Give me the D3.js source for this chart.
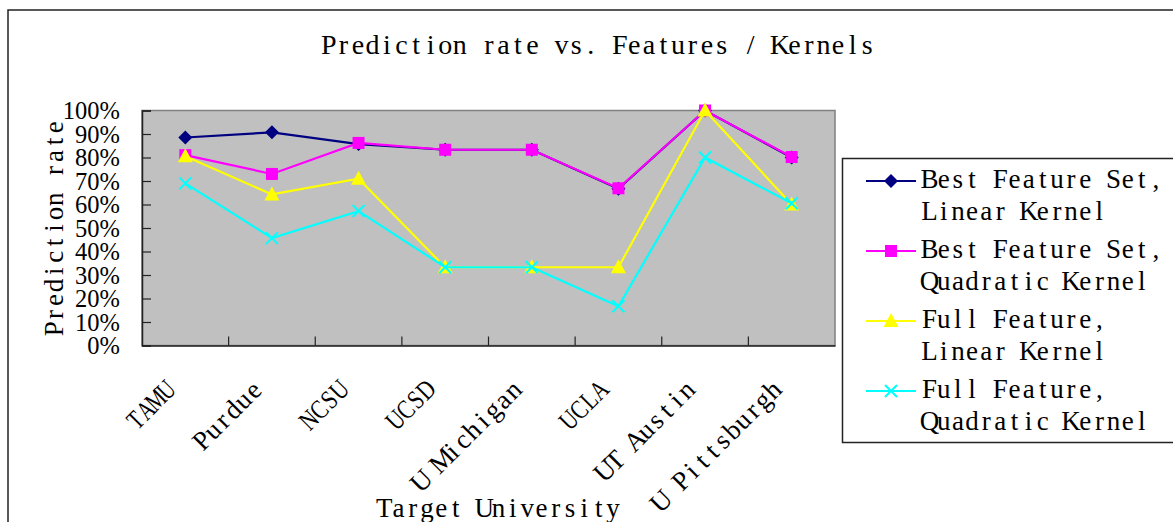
<!DOCTYPE html>
<html><head><meta charset="utf-8">
<script src="https://cdn.jsdelivr.net/npm/d3@7"></script>
<style>
html,body{margin:0;padding:0;background:#fff;overflow:hidden}
svg{display:block}
</style></head>
<body>
<svg id="chart" width="1173" height="522"></svg>
<script>
const categories = ["TAMU","Purdue","NCSU","UCSD","U Michigan","UCLA","UT Austin","U Pittsburgh"];
const bestLinear  = [88.5, 90.7, 85.7, 83.3, 83.3, 66.7, 100, 80];
const bestQuad    = [81, 73, 86.2, 83.3, 83.3, 66.9, 100, 80.2];
const fullLinear  = [80.5, 64.3, 71, 33.3, 33.3, 33.3, 100, 60];
const fullQuad    = [69, 45.7, 57.2, 33.3, 33.3, 16.7, 80, 60.5];
const yTicks = [0,10,20,30,40,50,60,70,80,90,100];
const seriesNames = [["Best Feature Set,","Linear Kernel"],["Best Feature Set,","Quadratic Kernel"],["Full Feature,","Linear Kernel"],["Full Feature,","Quadratic Kernel"]];
const seriesColors = ["#000080","#ff00ff","#ffff00","#00ffff"];
const seriesMarkers = ["diamond","square","triangle","x"];
const title = "Prediction rate vs. Features / Kernels";
const xTitle = "Target University";
const yTitle = "Prediction rate";

const series = [bestLinear,bestQuad,fullLinear,fullQuad];
const svg = d3.select("#chart");
const serif = "'Liberation Serif', 'Times New Roman', serif";

// serif text laid out on a fixed character grid (like the original's SimSun)
function monoText(parent, str, x0, y, cw, size){
  const tmp = svg.append("text").attr("font-family",serif).attr("font-size",size).text(str);
  const natural = tmp.node().getComputedTextLength();
  tmp.remove();
  const s = Math.min(1, str.length*cw/natural);
  const xs = Array.from(str).map((c,i)=> ((x0 + (i+0.5)*cw)/s).toFixed(2)).join(" ");
  return parent.append("text").attr("x",xs).attr("y",y).attr("text-anchor","middle")
    .attr("transform", s<1 ? `scale(${s.toFixed(3)},1)` : null)
    .attr("font-family",serif).attr("font-size",size).attr("fill","#000").text(str);
}

// outer border
svg.append("rect").attr("x",8).attr("y",10).attr("width",1200).attr("height",560)
  .attr("fill","#fff").attr("stroke","#222").attr("stroke-width",1.5);

const L=142, R=835, T=110.5, B=345.5;
const x = d3.scaleBand().domain(categories).range([L,R]).padding(0);
const y = d3.scaleLinear().domain([0,100]).range([B,T]);

// plot area
svg.append("rect").attr("x",L).attr("y",T).attr("width",R-L).attr("height",B-T)
  .attr("fill","#c0c0c0").attr("stroke","#808080").attr("stroke-width",1.5);

// y axis
const yAxis = d3.axisLeft(y).tickValues(yTicks).tickSize(-9).tickPadding(22).tickFormat(d=>d+"%");
const gy = svg.append("g").attr("transform",`translate(${L},0)`).call(yAxis);
gy.select(".domain").attr("stroke","#222").attr("stroke-width",1.5);
gy.selectAll(".tick line").attr("stroke","#222").attr("stroke-width",1.2);
gy.selectAll(".tick text").attr("font-family",serif).attr("font-size",24.5).attr("fill","#000")
  .attr("dy","0.34em");

// x axis
const xAxis = d3.axisBottom(x).tickSize(0).tickFormat("");
const gx = svg.append("g").attr("transform",`translate(0,${B})`).call(xAxis);
gx.select(".domain").attr("stroke","#222").attr("stroke-width",1.5);
gx.selectAll(".tick").remove();
gx.selectAll("line.bt").data(categories.slice(1)).enter().append("line")
  .attr("x1",d=>x(d)).attr("x2",d=>x(d)).attr("y1",0).attr("y2",-9)
  .attr("stroke","#222").attr("stroke-width",1.2);
// rotated labels
const xlCW = 14.3;
categories.forEach(c=>{
  const g = svg.append("g").attr("transform",`translate(${x(c)+x.bandwidth()/2-8},391) rotate(-45)`);
  monoText(g, c, -c.length*xlCW, 0, xlCW, 27);
});

// lines & markers
function marker(g, type, color, cx, cy){
  if(type==="diamond"){
    g.append("path").attr("d",`M${cx},${cy-7}L${cx+7},${cy}L${cx},${cy+7}L${cx-7},${cy}Z`).attr("fill",color);
  } else if(type==="square"){
    g.append("rect").attr("x",cx-6).attr("y",cy-6).attr("width",12).attr("height",12).attr("fill",color);
  } else if(type==="triangle"){
    g.append("path").attr("d",`M${cx},${cy-8}L${cx+7.5},${cy+6}L${cx-7.5},${cy+6}Z`).attr("fill",color);
  } else {
    g.append("path").attr("d",`M${cx-6},${cy-6}L${cx+6},${cy+6}M${cx+6},${cy-6}L${cx-6},${cy+6}`)
      .attr("stroke",color).attr("stroke-width",2).attr("fill","none");
  }
}
const line = d3.line().x((d,i)=>x(categories[i])+x.bandwidth()/2).y(d=>y(d));
series.forEach((s,k)=>{
  const g = svg.append("g");
  g.append("path").datum(s).attr("d",line).attr("fill","none")
    .attr("stroke",seriesColors[k]).attr("stroke-width",2.2);
  s.forEach((v,i)=>marker(g, seriesMarkers[k], seriesColors[k], x(categories[i])+x.bandwidth()/2, y(v)));
});

// title
monoText(svg, title, 321.5, 53.5, 14.55, 28);
// x title
monoText(svg, xTitle, 377, 517, 14.3, 27);
// y title
{
  const g = svg.append("g").attr("transform",`translate(63,228) rotate(-90)`);
  monoText(g, yTitle, -yTitle.length*14.4/2, 0, 14.4, 27);
}

// legend
svg.append("rect").attr("x",842.5).attr("y",158.5).attr("width",400).attr("height",284)
  .attr("fill","#fff").attr("stroke","#222").attr("stroke-width",1.5);
seriesNames.forEach((nm,k)=>{
  const cy = 181 + k*70;
  const g = svg.append("g");
  g.append("line").attr("x1",866).attr("x2",916).attr("y1",cy).attr("y2",cy)
    .attr("stroke",seriesColors[k]).attr("stroke-width",2.2);
  marker(g, seriesMarkers[k], seriesColors[k], 891, cy);
  nm.forEach((t,j)=>monoText(g, t, 922.5, cy+7+j*32, 14.15, 27));
});
</script>
</body></html>
